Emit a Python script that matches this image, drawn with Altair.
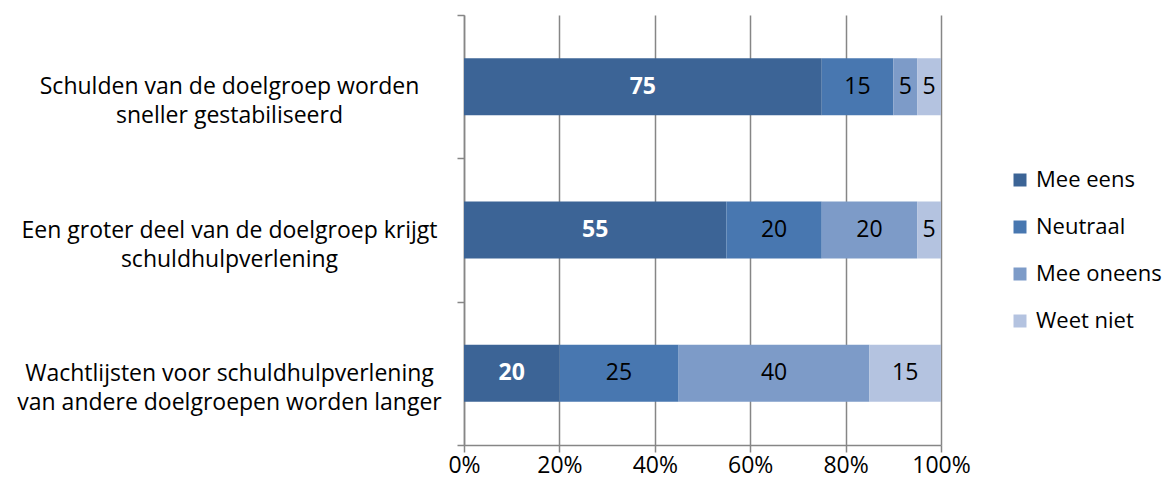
import altair as alt
import pandas as pd

categories = [
    "Schulden van de doelgroep worden|sneller gestabiliseerd",
    "Een groter deel van de doelgroep krijgt|schuldhulpverlening",
    "Wachtlijsten voor schuldhulpverlening|van andere doelgroepen worden langer",
]
series = ["Mee eens", "Neutraal", "Mee oneens", "Weet niet"]
values = {
    "Mee eens": [75, 55, 20],
    "Neutraal": [15, 20, 25],
    "Mee oneens": [5, 20, 40],
    "Weet niet": [5, 5, 15],
}
colors = ["#3C6496", "#4877B0", "#7D9BC8", "#B4C3E0"]

rows = []
for si, s in enumerate(series):
    for ci, c in enumerate(categories):
        rows.append({"cat": c, "series": s, "order": si, "value": values[s][ci]})
df = pd.DataFrame(rows)

FONT = "Open Sans"
FS = 23
LFS = 22

base = alt.Chart(df).transform_stack(
    stack="value", as_=["v0", "v1"], groupby=["cat"], sort=[alt.SortField("order")]
).transform_joinaggregate(total="sum(value)", groupby=["cat"]).transform_calculate(
    x0="datum.v0 / datum.total",
    x1="datum.v1 / datum.total",
    xm="(datum.v0 + datum.v1) / 2 / datum.total",
)

yenc = alt.Y(
    "cat:N",
    sort=categories,
    scale=alt.Scale(paddingInner=0, paddingOuter=0),
    axis=alt.Axis(
        title=None,
        tickBand="extent",
        tickSize=7,
        tickColor="#868686",
        tickWidth=1.5,
        domainColor="#868686",
        domainWidth=1.5,
        labelExpr="split(datum.label, '|')",
        labelAlign="center",
        labelPadding=228,
        labelLimit=600,
        labelLineHeight=29,
        labelFont=FONT,
        labelFontSize=FS,
        labelColor="#000000",
    ),
)

bars = base.mark_bar(size=57).encode(
    x=alt.X(
        "x0:Q",
        scale=alt.Scale(domain=[0, 1]),
        axis=alt.Axis(
            title=None,
            format=".0%",
            values=[0, 0.2, 0.4, 0.6, 0.8, 1.0],
            grid=True,
            gridColor="#868686",
            gridWidth=1.5,
            tickSize=7,
            tickColor="#868686",
            tickWidth=1.5,
            domainColor="#868686",
            domainWidth=1.5,
            labelFont=FONT,
            labelFontSize=FS,
            labelColor="#000000",
            labelPadding=2,
            labelFlush=False,
        ),
    ),
    x2="x1:Q",
    y=yenc,
    color=alt.Color(
        "series:N",
        sort=series,
        scale=alt.Scale(domain=series, range=colors),
        legend=alt.Legend(
            title=None,
            orient="none",
            legendX=545,
            legendY=154,
            symbolType="square",
            symbolSize=169,
            symbolStrokeWidth=0,
            symbolOpacity=1,
            labelFont=FONT,
            labelFontSize=LFS,
            labelColor="#000000",
            labelOffset=5,
            labelLimit=300,
            rowPadding=25,
        ),
    ),
    order=alt.Order("order:Q"),
)

labels_first = base.transform_filter(alt.datum.order == 0).mark_text(
    font=FONT, fontSize=FS, fontWeight="bold", baseline="middle", align="center", color="#ffffff"
).encode(
    x=alt.X("xm:Q"),
    y=alt.Y("cat:N", sort=categories),
    text=alt.Text("value:Q"),
)

labels_rest = base.transform_filter(alt.datum.order > 0).mark_text(
    font=FONT, fontSize=FS, baseline="middle", align="center", color="#000000"
).encode(
    x=alt.X("xm:Q"),
    y=alt.Y("cat:N", sort=categories),
    text=alt.Text("value:Q"),
)

chart = alt.layer(bars, labels_first, labels_rest).properties(
    width=477,
    height=430,
    autosize=alt.AutoSizeParams(type="none"),
    padding={"left": 456, "top": 7, "right": 226, "bottom": 35},
).configure_view(stroke=None)

chart.save("out.html", embed_options={"renderer": "svg", "actions": False})
